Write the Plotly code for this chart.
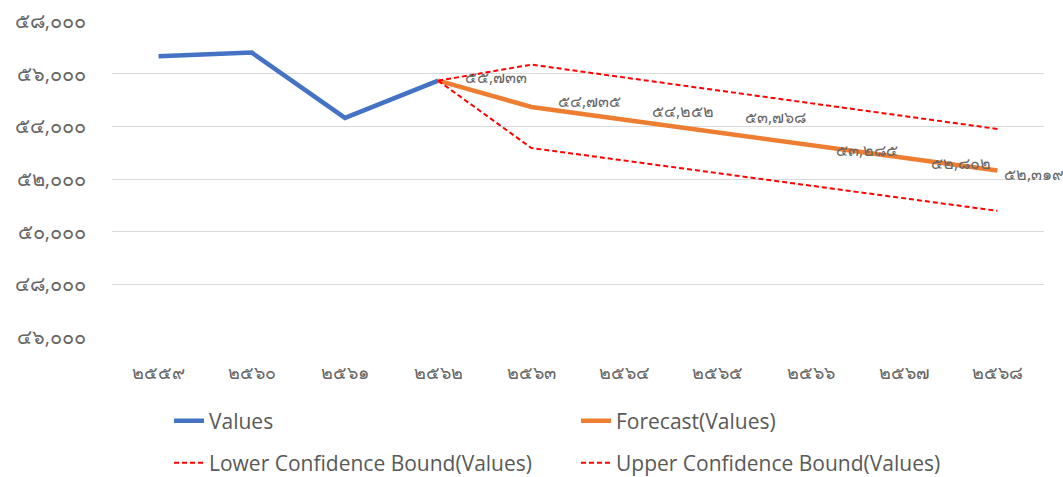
import plotly.graph_objects as go

# ---- data ----
years = [2559, 2560, 2561, 2562, 2563, 2564, 2565, 2566, 2567, 2568]
values_years = [2559, 2560, 2561, 2562]
values = [56660, 56800, 54320, 55733]
fc_years = [2562, 2563, 2564, 2565, 2566, 2567, 2568]
forecast = [55733, 54735, 54252, 53768, 53285, 52802, 52319]
lower = [55733, 53176, 52699, 52222, 51744, 51267, 50790]
upper = [55733, 56343, 55854, 55366, 54877, 54389, 53900]
y_ticks = [46000, 48000, 50000, 52000, 54000, 56000, 58000]

THAI = str.maketrans("0123456789", "๐๑๒๓๔๕๖๗๘๙")


def thai(n, comma=True):
    s = f"{n:,}" if comma else str(n)
    return s.translate(THAI)


x_labels = [thai(y, comma=False) for y in years]

GRAY = "#595959"
THAI_GRAY = "#666666"
FONT = "Open Sans"

fig = go.Figure()
fig.add_trace(go.Scatter(x=[thai(y, False) for y in values_years], y=values, mode="lines",
                         name="Values", line=dict(color="#4472C4", width=4.5), legend="legend"))
fig.add_trace(go.Scatter(x=[thai(y, False) for y in fc_years], y=forecast, mode="lines",
                         name="Forecast(Values)", line=dict(color="#ED7D31", width=4.5), legend="legend"))
fig.add_trace(go.Scatter(x=[thai(y, False) for y in fc_years], y=lower, mode="lines",
                         name="Lower Confidence Bound(Values)",
                         line=dict(color="#FF0000", width=2, dash="5px,3px"), legend="legend2"))
fig.add_trace(go.Scatter(x=[thai(y, False) for y in fc_years], y=upper, mode="lines",
                         name="Upper Confidence Bound(Values)",
                         line=dict(color="#FF0000", width=2, dash="5px,3px"), legend="legend2"))

# data labels for forecast
label_shift = [(25, 4), (25, 6), (25, 9), (25, 15), (23, -5), (25, -5), (5, -3)]
for xv, yv, (dx, dy) in zip(fc_years, forecast, label_shift):
    fig.add_annotation(x=thai(xv, False), y=yv, text=thai(yv), showarrow=False,
                       xanchor="left", yanchor="middle", xshift=dx, yshift=dy,
                       font=dict(family=FONT, size=16, color=THAI_GRAY))

leg_common = dict(orientation="h", xref="container", yref="container",
                  entrywidth=362, entrywidthmode="pixels",
                  font=dict(family=FONT, size=21, color=GRAY),
                  bgcolor="rgba(0,0,0,0)", xanchor="left", yanchor="middle")

fig.update_layout(
    width=1063, height=477,
    margin=dict(l=112, r=19, t=21, b=140, autoexpand=False),
    plot_bgcolor="white", paper_bgcolor="white",
    xaxis=dict(type="category", categoryorder="array", categoryarray=x_labels,
               range=[-0.5, len(years) - 0.5],
               showgrid=False, showline=False, zeroline=False, ticks="",
               tickfont=dict(family=FONT, size=18, color=THAI_GRAY), ticklabelstandoff=23),
    yaxis=dict(range=[46000, 58000], tickvals=y_ticks, ticktext=[thai(v) for v in y_ticks],
               showgrid=True, gridcolor="#D9D9D9", gridwidth=1, zeroline=False, showline=False,
               ticks="", tickfont=dict(family=FONT, size=20, color=THAI_GRAY), ticklabelstandoff=25),
    legend=dict(x=169 / 1063, y=1 - 421 / 477, **leg_common),
    legend2=dict(x=169 / 1063, y=1 - 463 / 477, **leg_common),
    showlegend=True,
)

fig.write_html("out.html", config={"displayModeBar": False},
               post_script="document.body.style.margin='0';")
